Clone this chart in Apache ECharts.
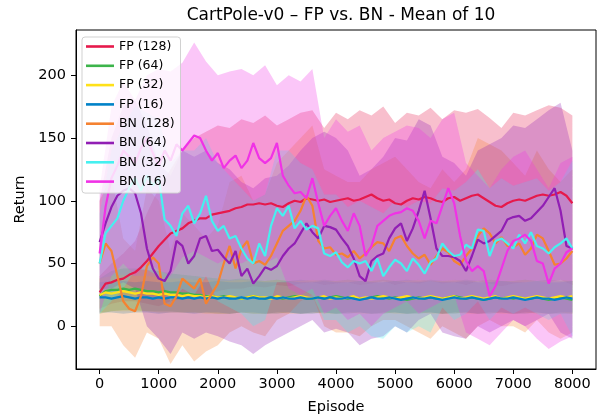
<!DOCTYPE html>
<html>
<head>
<meta charset="utf-8">
<script src="https://cdn.jsdelivr.net/npm/echarts@6/dist/echarts.min.js"></script>
<style>
  html, body { margin: 0; padding: 0; background: #fff; }
  #e_chart_1 { width: 603px; height: 420px; }
</style>
</head>
<body>
<div id="e_chart_1"></div>
<script>
// episodes of the mean curves (every 100)
var episodes = [0,100,200,300,400,500,600,700,800,900,1000,1100,1200,1300,1400,1500,1600,1700,1800,1900,
  2000,2100,2200,2300,2400,2500,2600,2700,2800,2900,3000,3100,3200,3300,3400,3500,3600,3700,3800,3900,
  4000,4100,4200,4300,4400,4500,4600,4700,4800,4900,5000,5100,5200,5300,5400,5500,5600,5700,5800,5900,
  6000,6100,6200,6300,6400,6500,6600,6700,6800,6900,7000,7100,7200,7300,7400,7500,7600,7700,7800,7900,8000];
// episodes of the shaded bands (every 200)
var bandEpisodes = [0,200,400,600,800,1000,1200,1400,1600,1800,2000,2200,2400,2600,2800,3000,3200,3400,3600,3800,
  4000,4200,4400,4600,4800,5000,5200,5400,5600,5800,6000,6200,6400,6600,6800,7000,7200,7400,7600,7800,8000];

var xTicks = [0,1000,2000,3000,4000,5000,6000,7000,8000];
var yTicks = [0,50,100,150,200];

var names = ['FP (128)','FP (64)','FP (32)','FP (16)','BN (128)','BN (64)','BN (32)','BN (16)'];
var colors = ['#e6194b','#3cb44b','#ffe119','#0082c8','#f58231','#911eb4','#46f0f0','#f032e6'];

var fp128 = [27,34,35,37,38,41,43,47,52,58,64,69,74,76,78,82,84,86,86,89,
  90,91,92,94,95,97,97,98,97,98,96,95,98,100,99,102,101,100,101,99,
  100,101,102,100,101,103,105,102,100,101,98,97,100,102,101,103,102,100,99,102,
  103,100,102,104,105,102,99,96,95,98,100,101,100,102,104,105,104,105,107,104,98];
var fp64 = [24,28,29,29,30,29,30,29,28,28,27,28,27,27,26,26,25,25,24,24,
  23,24,23,23,22,23,24,23,22,23,23,22,23,24,23,22,22,23,22,23,
  24,23,22,23,22,22,23,24,23,22,23,22,21,22,23,22,23,22,22,23,
  24,23,22,23,22,21,22,23,22,23,22,23,22,22,23,22,21,22,23,22,21];
var fp32 = [25,27,26,27,28,27,26,27,26,26,25,26,25,25,24,25,24,24,23,24,
  23,23,24,23,22,23,24,23,23,22,24,23,22,23,24,23,22,23,24,22,
  23,22,23,24,22,23,22,23,24,23,22,23,24,23,22,23,24,23,22,23,
  24,22,23,24,23,22,23,24,22,23,24,23,22,23,24,23,22,23,24,23,24];
var fp16 = [23,23,22,23,24,23,22,23,23,22,23,22,23,23,22,23,22,23,22,23,
  22,23,22,22,23,22,23,22,22,23,22,23,22,22,23,22,22,23,22,23,
  22,22,23,22,21,22,23,22,22,23,22,21,22,23,22,22,23,22,21,22,
  23,22,22,23,22,21,22,23,22,22,23,22,21,22,23,22,22,21,22,23,22];
var bn128 = [50,66,60,40,20,14,12,24,48,55,50,18,16,24,38,34,30,38,18,26,
  34,50,64,46,62,68,50,52,49,56,66,76,80,84,92,104,96,68,62,63,
  57,58,55,60,54,58,63,67,66,60,70,72,64,58,54,57,49,56,62,59,
  52,49,56,62,72,78,74,66,71,64,63,66,57,62,73,70,60,49,50,54,60];
var bn64 = [67,82,95,104,108,110,106,90,62,46,38,36,44,68,64,50,56,70,72,60,
  61,55,50,60,40,46,34,40,47,45,48,56,62,66,74,82,75,70,80,79,
  77,70,64,54,40,36,52,56,58,70,78,82,68,78,92,108,86,62,56,56,
  55,52,44,56,69,66,68,72,76,85,87,88,84,86,91,96,103,110,92,64,62];
var bn32 = [50,74,80,86,100,110,118,108,120,112,118,85,80,72,90,96,82,90,104,84,
  76,80,70,72,62,54,50,66,56,80,94,88,96,78,84,77,80,78,58,56,
  59,51,47,52,50,52,44,54,40,47,53,50,44,54,49,42,51,54,66,60,
  56,57,65,62,77,76,56,68,70,66,62,73,66,75,64,62,58,63,66,70,62];
var bn16 = [58,95,118,128,140,135,130,142,150,138,128,140,132,145,140,146,152,150,140,132,
  138,126,132,136,126,132,146,134,130,134,146,120,112,106,107,102,118,98,80,88,
  94,84,76,90,80,56,64,80,84,88,90,91,94,92,84,70,84,82,96,110,
  98,72,52,44,48,44,24,32,46,60,68,70,73,68,52,50,34,46,50,59,62];

var fp128Hi = [40,50,58,68,90,110,125,140,150,155,160,158,165,162,168,160,165,170,172,158,170,165,172,168,175,162,170,168,174,165,172,170,173,166,158,170,168,172,176,174,168];
var fp128Lo = [14,18,20,20,18,16,20,22,24,25,28,30,30,32,31,33,32,34,35,33,34,35,33,34,36,33,35,34,36,34,35,33,36,34,32,34,35,36,35,37,33];
var fp64Hi = [38,44,46,46,45,44,42,41,40,39,38,37,38,37,36,37,36,37,36,37,36,37,36,36,37,36,37,36,37,36,36,37,36,37,36,36,37,36,37,36,36];
var fp64Lo = [10,12,13,13,12,12,12,11,11,11,10,10,11,10,10,10,11,10,10,11,10,10,11,10,10,11,10,10,11,10,10,11,10,10,11,10,10,11,10,10,10];
var fp32Hi = [38,40,41,40,40,39,38,38,37,37,36,36,37,36,36,37,36,36,37,36,36,37,36,36,37,36,36,37,36,36,37,36,36,37,36,36,37,36,36,37,36];
var fp32Lo = [11,12,12,12,12,11,11,11,11,10,10,10,11,10,10,11,10,10,11,10,10,11,10,10,11,10,10,11,10,10,11,10,10,11,10,10,11,10,10,11,10];
var fp16Hi = [35,36,36,35,36,35,35,36,35,35,36,35,35,36,35,35,36,35,35,36,35,35,36,35,35,36,35,35,36,35,35,36,35,35,36,35,35,36,35,35,36];
var fp16Lo = [11,11,10,11,11,10,11,11,10,11,11,10,11,11,10,11,11,10,11,11,10,11,11,10,11,11,10,11,11,10,11,11,10,11,11,10,11,11,10,11,11];
var bn128Hi = [100,120,70,60,110,100,60,90,80,70,80,115,120,100,105,130,140,150,160,125,120,115,115,125,130,135,125,115,110,125,115,125,150,145,140,130,120,140,125,115,125];
var bn128Lo = [0,0,-15,-25,-5,-10,-30,-15,-28,-20,-15,-5,0,-5,-8,5,10,20,25,0,-5,-5,-8,0,5,5,0,-5,-10,0,-5,-10,0,5,0,0,-5,5,-5,-10,-5];
var bn64Hi = [100,150,175,180,160,130,120,140,135,140,130,125,115,110,118,120,128,140,150,155,150,140,120,125,135,150,148,165,160,135,130,120,140,145,150,160,158,165,172,178,140];
var bn64Lo = [30,30,35,30,0,-10,-22,-5,-10,-5,-8,-12,-15,-22,-15,-10,-5,0,5,-5,-2,-5,-15,-10,-8,0,-5,5,10,-5,-8,-10,0,-5,0,5,0,5,10,-5,-10];
var bn32Hi = [90,140,160,175,170,165,130,140,140,150,130,120,110,100,105,140,140,130,125,105,105,95,100,95,90,100,95,100,98,110,108,115,125,110,118,112,115,118,108,115,132];
var bn32Lo = [10,20,30,45,45,40,20,30,25,40,20,15,10,0,5,35,35,30,25,5,5,-5,0,-8,-10,0,-5,0,-5,15,5,10,20,5,15,10,15,10,5,10,-8];
var bn16Hi = [110,175,195,180,200,205,203,210,226,211,200,203,205,200,208,192,200,195,205,150,165,155,160,140,150,155,160,158,150,165,170,130,120,110,125,135,140,125,110,130,135];
var bn16Lo = [10,40,50,40,50,45,40,55,60,55,50,55,50,55,50,55,30,25,30,10,15,5,10,0,10,15,20,10,15,20,25,-5,-10,-15,-5,5,0,-10,-18,-12,-8];

var means = [fp128, fp64, fp32, fp16, bn128, bn64, bn32, bn16];
var highs = [fp128Hi, fp64Hi, fp32Hi, fp16Hi, bn128Hi, bn64Hi, bn32Hi, bn16Hi];
var lows = [fp128Lo, fp64Lo, fp32Lo, fp16Lo, bn128Lo, bn64Lo, bn32Lo, bn16Lo];

var font = "'DejaVu Sans', sans-serif";

function bandSeries(idx) {
	var hi = highs[idx], lo = lows[idx];
	return {
		type: 'custom',
		name: names[idx] + ' band',
		silent: true,
		z: 1,
		data: [[0, 0]],
		renderItem: function (params, api) {
			var pts = [];
			for (var i = 0; i < bandEpisodes.length; i++) {
				pts.push(api.coord([bandEpisodes[i], hi[i]]));
			}
			for (var j = bandEpisodes.length - 1; j >= 0; j--) {
				pts.push(api.coord([bandEpisodes[j], lo[j]]));
			}
			return {
				type: 'polygon',
				shape: { points: pts },
				style: { fill: colors[idx], opacity: 0.28 }
			};
		}
	};
}

function lineSeries(idx) {
	var vals = means[idx];
	return {
		type: 'line',
		name: names[idx],
		symbol: 'none',
		showSymbol: false,
		z: 3,
		color: colors[idx],
		lineStyle: { width: 2.2, color: colors[idx] },
		data: episodes.map(function (e, i) { return [e, vals[i]]; })
	};
}

var series = [];
for (var k = 0; k < names.length; k++) series.push(bandSeries(k));
for (var m = 0; m < names.length; m++) series.push(lineSeries(m));

var dom = document.getElementById("e_chart_1");
var myChart = echarts.init(dom, null, { renderer: 'canvas' });
var option = {
	animation: false,
	title: {
		text: 'CartPole-v0 \u2013 FP vs. BN - Mean of 10',
		left: 336,
		textAlign: 'center',
		top: 2,
		textStyle: { fontFamily: font, fontSize: 17, fontWeight: 'normal', color: '#000' }
	},
	legend: {
		data: names,
		orient: 'vertical',
		left: 82,
		top: 37,
		padding: [3, 6, 5, 4],
		icon: 'rect',
		itemWidth: 28,
		itemHeight: 2.6,
		itemGap: 6.3,
		itemTextGap: 9,
		backgroundColor: 'rgba(255,255,255,0.8)',
		borderColor: 'rgba(204,204,204,0.9)',
		borderWidth: 1,
		borderRadius: 3,
		textStyle: { fontFamily: font, fontSize: 12.5, lineHeight: 12.2, color: '#000' }
	},
	grid: {
		left: 76,
		right: 7,
		top: 30,
		bottom: 51,
		show: true,
		borderColor: '#000',
		borderWidth: 1,
		backgroundColor: 'transparent'
	},
	xAxis: {
		type: 'value',
		min: -400,
		max: 8400,
		name: 'Episode',
		nameLocation: 'middle',
		nameGap: 31,
		nameTextStyle: { fontFamily: font, fontSize: 14.5, color: '#000' },
		axisLine: { show: true, onZero: false, lineStyle: { color: '#000', width: 1 } },
		axisTick: { show: true, length: 5, customValues: xTicks, lineStyle: { color: '#000' } },
		axisLabel: {
			customValues: xTicks, margin: 8, fontFamily: font, fontSize: 14.5, color: '#000',
			formatter: function (v) { return String(v); }
		},
		splitLine: { show: false }
	},
	yAxis: {
		type: 'value',
		min: -34,
		max: 236,
		name: 'Return',
		nameLocation: 'middle',
		nameGap: 47,
		nameTextStyle: { fontFamily: font, fontSize: 14.5, color: '#000' },
		axisLine: { show: true, onZero: false, lineStyle: { color: '#000', width: 1 } },
		axisTick: { show: true, length: 5, customValues: yTicks, lineStyle: { color: '#000' } },
		axisLabel: {
			customValues: yTicks, margin: 10, fontFamily: font, fontSize: 14.5, color: '#000',
			formatter: function (v) { return String(v); }
		},
		splitLine: { show: false }
	},
	series: series
};
if (option && typeof option === "object") {
	myChart.setOption(option, true);
}
</script>
</body>
</html>
